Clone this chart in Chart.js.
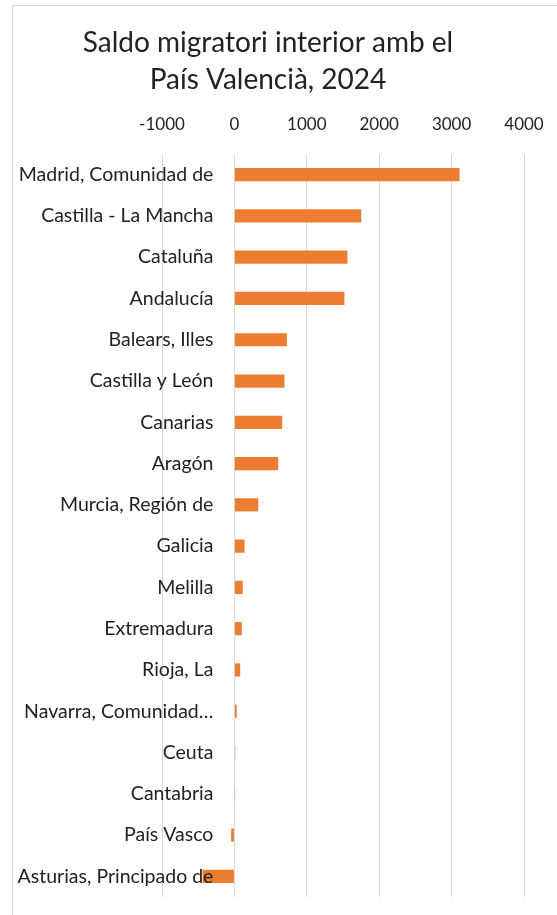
<!DOCTYPE html>
<html>
<head>
<meta charset="utf-8">
<script src="https://cdn.jsdelivr.net/npm/chart.js@4.4.1/dist/chart.umd.min.js"></script>
<style>
  html, body { margin: 0; padding: 0; background: #ffffff; }
  #wrap { position: relative; width: 557px; height: 915px; overflow: hidden; }
  #frame { position: absolute; left: 12px; top: 5px; width: 600px; height: 1000px;
           border-left: 1px solid #d9d9d9; border-top: 1px solid #d9d9d9; box-sizing: border-box; }
  canvas { position: absolute; left: 0; top: 0; }
</style>
</head>
<body>
<div id="wrap">
  <div id="frame"></div>
  <canvas id="c" width="557" height="915"></canvas>
</div>
<script>
const chartTitle = ['Saldo migratori interior amb el', 'País Valencià, 2024'];
const categories = [
  'Madrid, Comunidad de',
  'Castilla - La Mancha',
  'Cataluña',
  'Andalucía',
  'Balears, Illes',
  'Castilla y León',
  'Canarias',
  'Aragón',
  'Murcia, Región de',
  'Galicia',
  'Melilla',
  'Extremadura',
  'Rioja, La',
  'Navarra, Comunidad…',
  'Ceuta',
  'Cantabria',
  'País Vasco',
  'Asturias, Principado de'
];
const saldo = [3110, 1752, 1562, 1520, 725, 692, 660, 605, 330, 140, 115, 102, 80, 32, 12, 10, -45, -440];
const xTicks = [-1000, 0, 1000, 2000, 3000, 4000];

const FONT = 'Lato, "Open Sans", sans-serif';
const TEXT = '#222222';
const GRID = '#d9d9d9';

new Chart(document.getElementById('c'), {
  type: 'bar',
  data: {
    labels: categories,
    datasets: [{
      label: 'Saldo',
      data: saldo,
      backgroundColor: '#ED7D31',
      borderWidth: 0,
      categoryPercentage: 1,
      barPercentage: 0.32
    }]
  },
  options: {
    indexAxis: 'y',
    responsive: false,
    animation: false,
    layout: { padding: { left: 0, right: 21, top: 0, bottom: 18 } },
    plugins: {
      legend: { display: false },
      tooltip: { enabled: false },
      title: {
        display: true,
        text: chartTitle,
        color: TEXT,
        font: { family: FONT, size: 28, weight: 'normal', lineHeight: 37 / 28 },
        padding: { top: 24, bottom: -2 }
      }
    },
    scales: {
      x: {
        position: 'top',
        min: xTicks[0],
        max: xTicks[xTicks.length - 1],
        afterBuildTicks: (s) => { s.ticks = xTicks.map(v => ({ value: v })); },
        afterFit: (s) => { s.paddingLeft = 162; s.paddingRight = 33; },
        grid: { color: GRID, lineWidth: 1, drawTicks: false },
        border: { display: false },
        ticks: {
          color: TEXT, font: { family: FONT, size: 17 }, padding: 18.8, maxRotation: 0,
          callback: (v) => String(v)
        }
      },
      y: {
        position: { x: -290 },
        grid: { display: false, drawTicks: false },
        border: { display: false },
        ticks: { color: TEXT, font: { family: FONT, size: 19.5 }, padding: 0, autoSkip: false, z: 1 }
      }
    }
  }
});
</script>
</body>
</html>
